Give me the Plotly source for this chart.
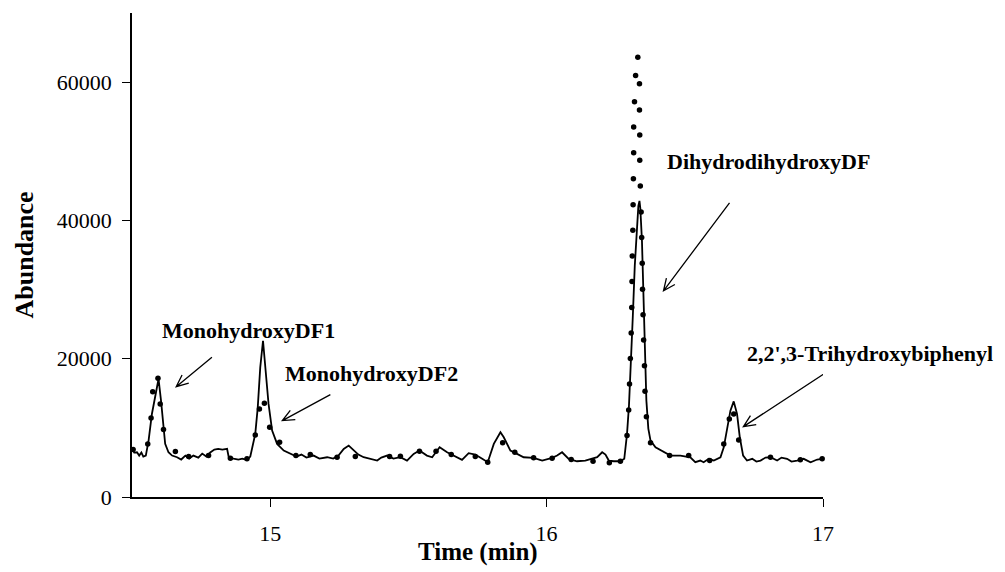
import numpy as np
import plotly.graph_objects as go

# ---- solid chromatogram trace ----
line_time = [14.500, 14.508, 14.518, 14.526, 14.534, 14.541, 14.550, 14.560, 14.572, 14.584,
             14.596, 14.605, 14.612, 14.620, 14.632, 14.645, 14.663, 14.678, 14.693, 14.707,
             14.722, 14.740, 14.754, 14.769, 14.783, 14.798, 14.812, 14.827, 14.844, 14.850,
             14.867, 14.885, 14.899, 14.916, 14.928, 14.936, 14.946, 14.955, 14.964, 14.974,
             14.983, 14.994, 15.007, 15.025, 15.049, 15.073, 15.095, 15.113, 15.131, 15.157,
             15.178, 15.206, 15.228, 15.247, 15.266, 15.284, 15.302, 15.319, 15.338, 15.362,
             15.387, 15.402, 15.423, 15.446, 15.471, 15.495, 15.519, 15.540, 15.567, 15.586,
             15.604, 15.613, 15.640, 15.664, 15.694, 15.718, 15.742, 15.767, 15.787, 15.809,
             15.833, 15.845, 15.869, 15.893, 15.917, 15.953, 15.984, 16.020, 16.038, 16.056,
             16.080, 16.110, 16.140, 16.183, 16.201, 16.213, 16.225, 16.243, 16.267, 16.281,
             16.291, 16.298, 16.305, 16.312, 16.319, 16.327, 16.332, 16.336, 16.339, 16.345,
             16.350, 16.356, 16.361, 16.368, 16.376, 16.394, 16.424, 16.448, 16.484, 16.520,
             16.538, 16.556, 16.568, 16.587, 16.605, 16.629, 16.641, 16.653, 16.665, 16.677,
             16.689, 16.699, 16.711, 16.725, 16.744, 16.759, 16.774, 16.792, 16.810, 16.834,
             16.850, 16.870, 16.886, 16.906, 16.930, 16.955, 16.979, 16.997]
line_abund = [6960, 6430, 6470, 5990, 6430, 5850, 5990, 8160, 12010, 14410,
              17070, 13940, 10570, 7680, 6470, 5990, 5750, 5420, 5990, 5560,
              5990, 5700, 6280, 5850, 6430, 6860, 6960, 6860, 6960, 5750,
              5560, 5420, 5560, 5370, 5850, 7190, 9130, 12970, 18740, 22600,
              18740, 13460, 9600, 7680, 6720, 6240, 5850, 6140, 5700, 5990,
              5560, 5750, 5560, 5990, 6960, 7440, 6720, 6140, 5750, 5560,
              5270, 5700, 5990, 5560, 5750, 5270, 6240, 6720, 5990, 5750,
              6720, 7190, 6470, 5990, 5370, 6330, 6140, 5520, 5030, 7680,
              9360, 8640, 6720, 6240, 5750, 5660, 5270, 5660, 5990, 6470,
              5520, 5170, 5270, 5750, 6470, 6140, 5270, 5170, 5170, 5520,
              9130, 13210, 18990, 26210, 33430, 39640, 42090, 42820, 41800, 37040,
              29100, 20430, 13940, 9890, 8160, 7190, 6470, 5990, 5990, 5750,
              5030, 5270, 5030, 5520, 5270, 5750, 7190, 9600, 12490, 13830,
              12010, 8640, 5990, 5270, 5520, 5130, 5270, 5700, 5750, 5270,
              5700, 5520, 5130, 5270, 5520, 5030, 5420, 5520]

# ---- dotted trace (read dot by dot) ----
dot_time = [14.504, 14.557, 14.569, 14.575, 14.594, 14.602, 14.614, 14.657, 14.705, 14.777,
            14.856, 14.916, 14.946, 14.961, 14.979, 14.998, 15.034, 15.093, 15.145, 15.242,
            15.308, 15.432, 15.471, 15.540, 15.600, 15.655, 15.742, 15.787, 15.841, 15.885,
            15.953, 16.020, 16.089, 16.168, 16.227, 16.267, 16.291, 16.297, 16.300, 16.303,
            16.306, 16.308, 16.309, 16.310, 16.312, 16.313, 16.314, 16.315, 16.315, 16.318,
            16.322, 16.330, 16.336, 16.336, 16.337, 16.337, 16.339, 16.342, 16.344, 16.346,
            16.347, 16.349, 16.351, 16.354, 16.356, 16.361, 16.376, 16.445, 16.514, 16.590,
            16.641, 16.661, 16.677, 16.695, 16.810, 16.918, 16.997]
dot_abund = [6860, 7680, 11440, 15230, 17160, 13460, 9750, 6570, 5850, 5990,
             5600, 5520, 8980, 12740, 13550, 10080, 7910, 5990, 6140, 5750,
             5850, 5850, 5890, 6610, 6610, 6140, 5850, 5030, 7830, 6470,
             5660, 5600, 5420, 5170, 4940, 5170, 8880, 12590, 16350, 20040,
             23710, 27410, 31160, 34870, 38580, 42280, 46040, 49790, 53500, 57150,
             60970, 63610, 59750, 55960, 52350, 48690, 44980, 41230, 37520, 33820,
             30060, 26350, 22700, 18990, 15280, 11620, 7830, 5990, 5990, 5270,
             7680, 11290, 12010, 8260, 5750, 5370, 5520]

x_ticks = [15, 16, 17]
y_ticks = [0, 20000, 40000, 60000]
x_title = "Time (min)"
y_title = "Abundance"

labels = ["MonohydroxyDF1", "MonohydroxyDF2", "DihydrodihydroxyDF", "2,2',3-Trihydroxybiphenyl"]
label_x = [14.602, 15.047, 16.430, 16.716]
label_y = [24040, 17830, 48590, 20720]
# arrow heads (data) and tail offsets (pixels, y up)
arrow_head_x = [14.660, 15.044, 16.423, 16.712]
arrow_head_y = [15960, 11050, 29820, 10180]
arrow_tail_dx = [35.7, 48, 66, 84]
arrow_tail_dy = [29.3, 26, 88, 55]

FONT = "Liberation Serif, Times New Roman, serif"

fig = go.Figure()
fig.add_trace(go.Scatter(x=line_time, y=line_abund, mode="lines",
                         line=dict(color="black", width=1.8), showlegend=False,
                         cliponaxis=False))
fig.add_trace(go.Scatter(x=dot_time, y=dot_abund, mode="markers",
                         marker=dict(color="black", size=5.5, line=dict(width=0)),
                         showlegend=False, cliponaxis=False))

for t, x, y in zip(labels, label_x, label_y):
    fig.add_annotation(x=x, y=y, xref="x", yref="y", text=t, showarrow=False,
                       xanchor="left", yanchor="middle",
                       font=dict(family=FONT, size=22, color="black", weight="bold"))

head_len, half_ang = 13.0, np.deg2rad(24)
for hx, hy, dx, dy in zip(arrow_head_x, arrow_head_y, arrow_tail_dx, arrow_tail_dy):
    L = np.hypot(dx, dy)
    ux, uy = dx / L, dy / L
    pts = []
    for s in (1, -1):
        c, sn = np.cos(s * half_ang), np.sin(s * half_ang)
        pts.append((head_len * (c * ux - sn * uy), head_len * (sn * ux + c * uy)))
    path = (f"M {dx:.2f} {dy:.2f} L 0 0 "
            f"M {pts[0][0]:.2f} {pts[0][1]:.2f} L 0 0 L {pts[1][0]:.2f} {pts[1][1]:.2f}")
    fig.add_shape(type="path", path=path, xref="x", yref="y",
                  xsizemode="pixel", ysizemode="pixel", xanchor=hx, yanchor=hy,
                  line=dict(color="black", width=1.3))

# axis titles (placed precisely in paper coordinates)
fig.add_annotation(x=0.5, y=-0.113, xref="paper", yref="paper", text=x_title,
                   showarrow=False, xanchor="center", yanchor="middle",
                   font=dict(family=FONT, size=25, color="black", weight="bold"))
fig.add_annotation(x=-0.157, y=0.5, xref="paper", yref="paper", text=y_title,
                   showarrow=False, xanchor="center", yanchor="middle", textangle=-90,
                   font=dict(family=FONT, size=26, color="black", weight="bold"))

# page body adds an 8 px offset, so the figure is 8 px smaller than the window
fig.update_layout(
    width=997, height=564,
    margin=dict(l=124, r=182, t=5, b=75, autoexpand=False),
    paper_bgcolor="white", plot_bgcolor="white",
    font=dict(family=FONT, color="black", size=22),
    showlegend=False,
)
fig.update_xaxes(range=[14.5, 17], tickvals=x_ticks, ticks="outside", ticklen=8,
                 tickwidth=1.3, tickcolor="black", showline=True, linecolor="black",
                 linewidth=1.5, showgrid=False, zeroline=False, automargin=False,
                 tickfont=dict(family=FONT, size=22), ticklabelstandoff=8)
fig.update_yaxes(range=[0, 70000], tickvals=y_ticks, tickformat="d", ticks="outside",
                 ticklen=8, tickwidth=1.3, tickcolor="black", showline=True,
                 linecolor="black", linewidth=1.5, showgrid=False, zeroline=False,
                 automargin=False, tickfont=dict(family=FONT, size=22), ticklabelstandoff=6)

fig.write_html("out.html")
